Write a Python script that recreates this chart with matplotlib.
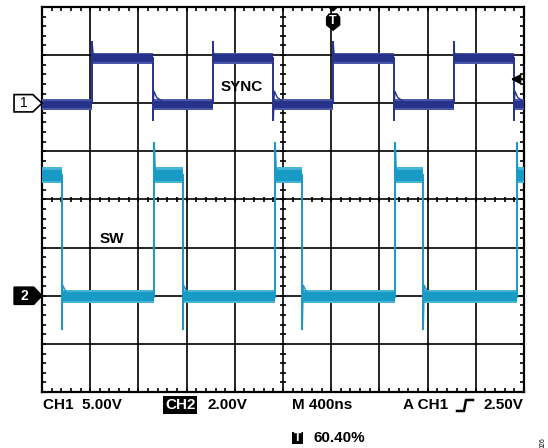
import matplotlib
matplotlib.use('Agg')
import matplotlib.pyplot as plt
from matplotlib.patches import Polygon, Rectangle
from matplotlib.collections import LineCollection
from matplotlib.lines import Line2D

plt.rcParams['font.family'] = ['Liberation Sans', 'DejaVu Sans']

W, H = 548, 448

# screen: 10 x 8 divisions, levels in divisions from screen centre
n_xdiv, n_ydiv = 10, 8
trig_pos = 60.40          # % of screen
ch1_ref, ch2_ref = 2.0, -2.0
trig_level = 2.5          # CH1 2.50V at 5V/div -> +0.5 div above CH1 ref

# CH1 = SYNC
sync_rise = [1.04, 3.54, 6.04, 8.54]
sync_fall = [2.30, 4.80, 7.30, 9.79]
sync_low, sync_high = 2.00, 2.93
sync_peak, sync_dip = 3.27, 1.66

# CH2 = SW
sw_fall = [0.41, 2.92, 5.40, 7.91]
sw_rise = [2.33, 4.84, 7.33, 9.85]
sw_low, sw_high = -2.03, 0.50
sw_peak, sw_dip = 1.17, -2.70

ch1_dark, ch1_light = '#27338a', '#4a58a8'
ch2_dark, ch2_light = '#179ac4', '#45b4d7'


def fx(px):
    return px / W


def fy(py):
    return 1 - py / H


def draw_trace(ax, rises, falls, low, high, peak, dip, dark, light, band):
    events = sorted([(t, 1) for t in rises] + [(t, 0) for t in falls])
    state = 1 - events[0][1]
    t0 = 0.0
    for t, kind in events + [(float(n_xdiv), None)]:
        lvl = high if state else low
        lo, hi = band[state]
        ax.fill_between([t0, t], lvl - lo, lvl + hi, color=light, lw=0, zorder=3)
        ax.fill_between([t0, t], lvl - lo * 0.7, lvl + hi * 0.7, color=dark, lw=0, zorder=4)
        if kind is None:
            break
        if kind == 1:
            ax.plot([t, t], [low, peak], color=dark, lw=1.4, zorder=5)
            ax.plot([t, t + 0.02, t + 0.2], [peak, high + 0.1, high],
                    color=dark, lw=1.0, zorder=5)
        else:
            ax.plot([t, t], [high, dip], color=dark, lw=1.4, zorder=5)
            ax.plot([t, t + 0.02, t + 0.08, t + 0.25], [dip, low + 0.25, low + 0.12, low],
                    color=dark, lw=1.0, zorder=5)
        state = kind
        t0 = t


fig = plt.figure(figsize=(W / 100, H / 100), dpi=100)
ax = fig.add_axes([fx(42), fy(392), (524 - 42) / W, (392 - 7) / H])
ax.set_xlim(0, n_xdiv)
ax.set_ylim(-n_ydiv / 2, n_ydiv / 2)
ax.set_xticks([])
ax.set_yticks([])
for s in ax.spines.values():
    s.set_linewidth(1.6)

# graticule
for i in range(1, n_xdiv):
    ax.axvline(i, color='black', lw=1.2, zorder=2)
for j in range(-n_ydiv // 2 + 1, n_ydiv // 2):
    ax.axhline(j, color='black', lw=1.2, zorder=2)

segs = []
tl = 0.09
for k in range(1, n_xdiv * 5):
    x = k / 5
    segs.append([(x, 4), (x, 4 - tl)])
    segs.append([(x, -4), (x, -4 + tl)])
    segs.append([(x, -0.06), (x, 0.06)])
for k in range(1, n_ydiv * 5):
    y = -4 + k / 5
    segs.append([(0, y), (tl, y)])
    segs.append([(10, y), (10 - tl, y)])
    segs.append([(4.94, y), (5.06, y)])
ax.add_collection(LineCollection(segs, colors='black', linewidths=1.2, zorder=2))

# traces
draw_trace(ax, sync_rise, sync_fall, sync_low, sync_high, sync_peak, sync_dip,
           ch1_dark, ch1_light, {0: (0.14, 0.08), 1: (0.11, 0.12)})
draw_trace(ax, sw_rise, sw_fall, sw_low, sw_high, sw_peak, sw_dip,
           ch2_dark, ch2_light, {0: (0.12, 0.15), 1: (0.16, 0.17)})

ax.text((221 - 42) / 48.2, (199 - 87) / 48.1, 'SYNC', fontsize=11, fontweight='bold',
        va='center', ha='left', zorder=6)
ax.text((100 - 42) / 48.2, (199 - 238) / 48.1, 'SW', fontsize=11, fontweight='bold',
        va='center', ha='left', zorder=6)

# channel reference markers
m1 = Polygon([(-0.58, ch1_ref + 0.18), (-0.19, ch1_ref + 0.18), (0, ch1_ref),
              (-0.19, ch1_ref - 0.18), (-0.58, ch1_ref - 0.18)],
             closed=True, facecolor='white', edgecolor='black', lw=1.2, clip_on=False, zorder=7)
ax.add_patch(m1)
ax.text(-0.37, ch1_ref, '1', fontsize=10, ha='center', va='center', clip_on=False, zorder=8)
m2 = Polygon([(-0.58, ch2_ref + 0.18), (-0.17, ch2_ref + 0.18), (0, ch2_ref),
              (-0.17, ch2_ref - 0.18), (-0.58, ch2_ref - 0.18)],
             closed=True, facecolor='black', edgecolor='black', lw=1.0, clip_on=False, zorder=7)
ax.add_patch(m2)
ax.text(-0.36, ch2_ref, '2', fontsize=10, fontweight='bold', color='white',
        ha='center', va='center', clip_on=False, zorder=8)

# trigger position marker
c = trig_pos / 100 * n_xdiv
ax.add_patch(Polygon([(c - 0.1, 3.99), (c + 0.1, 3.99), (c, 3.9)], closed=True,
                     facecolor='black', edgecolor='none', zorder=7, clip_on=False))
ax.add_patch(Polygon([(c - 0.15, 3.62), (c - 0.15, 3.79), (c - 0.09, 3.87), (c + 0.09, 3.87),
                      (c + 0.15, 3.79), (c + 0.15, 3.62), (c, 3.50)], closed=True,
                     facecolor='black', edgecolor='none', zorder=7))
ax.text(c, 3.71, 'T', color='white', fontsize=9, fontweight='bold',
        ha='center', va='center', zorder=8)

# trigger level arrow
ax.annotate('', xy=(9.72, ch1_ref + trig_level / 5), xytext=(9.99, ch1_ref + trig_level / 5),
            arrowprops=dict(arrowstyle='-|>', color='black', lw=1.6, mutation_scale=13,
                            shrinkA=0, shrinkB=0),
            annotation_clip=False, zorder=8)

# readout line
fs = 11
fig.text(fx(43), fy(405), 'CH1  5.00V', fontsize=fs, fontweight='bold', va='center')
fig.text(fx(165), fy(405), 'CH2', fontsize=fs, fontweight='bold', color='white', va='center',
         bbox=dict(facecolor='black', edgecolor='none', pad=1.2))
fig.text(fx(208), fy(405), '2.00V', fontsize=fs, fontweight='bold', va='center')
fig.text(fx(292), fy(405), 'M 400ns', fontsize=fs, fontweight='bold', va='center')
fig.text(fx(403), fy(405), 'A CH1', fontsize=fs, fontweight='bold', va='center')
fig.add_artist(Line2D([fx(457), fx(464), fx(466), fx(473)],
                      [fy(411), fy(411), fy(400), fy(400)],
                      color='black', lw=1.8, transform=fig.transFigure))
fig.text(fx(483), fy(405), '2.50V', fontsize=fs, fontweight='bold', va='center')

fig.add_artist(Rectangle((fx(292), fy(444)), 11 / W, 12 / H, facecolor='black',
                         edgecolor='none', transform=fig.transFigure))
fig.text(fx(297.5), fy(438), 'T', fontsize=9, fontweight='bold', color='white',
         ha='center', va='center')
fig.text(fx(313), fy(437.5), '60.40%', fontsize=fs, fontweight='bold', va='center')
fig.text(fx(543), fy(437), '026', fontsize=5, rotation=90, ha='center', va='top')

fig.savefig('out.png', dpi=100)
